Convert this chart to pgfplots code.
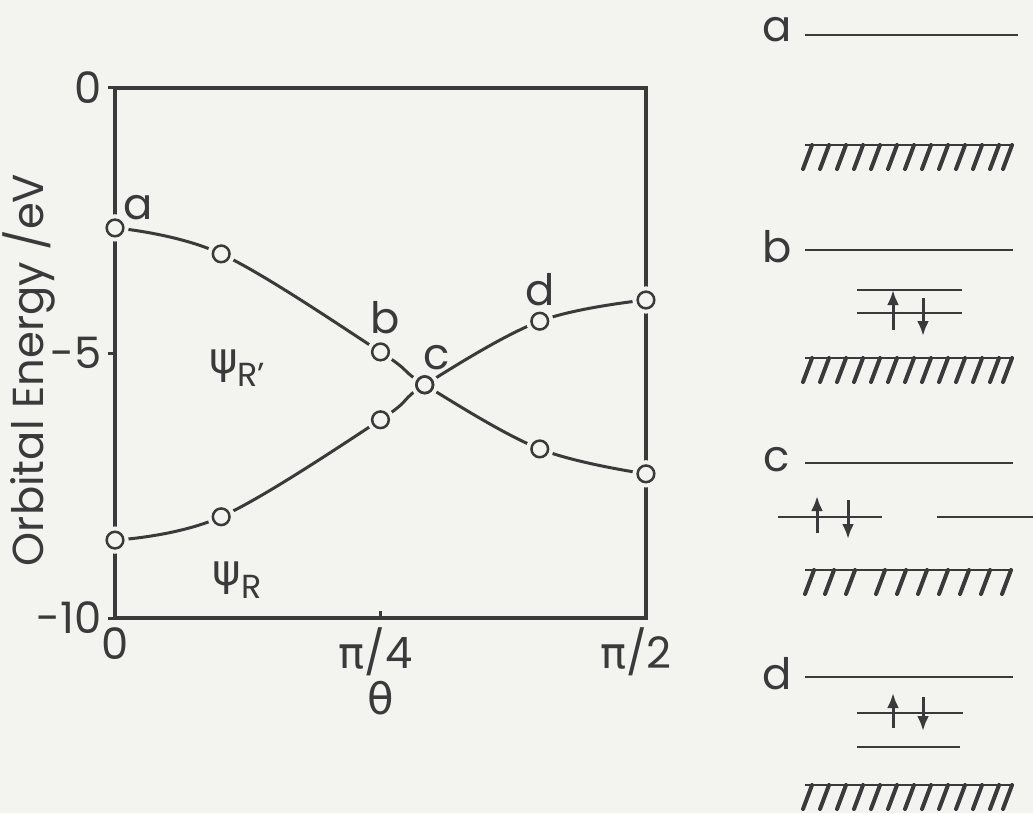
\documentclass[border=0pt]{standalone}
\usepackage{pgfplots}
\pgfplotsset{compat=1.18}
\usepackage{fontspec}
\setmainfont{Poppins}
\newfontfamily\gr{DejaVu Sans}
\usetikzlibrary{arrows.meta}
\definecolor{ink}{RGB}{58,58,58}
\definecolor{paper}{RGB}{243,243,240}

% orbital energies (eV) of psi_R' and psi_R against theta (degrees)
\pgfplotstableread{
theta  E
0     -2.64
18    -3.13
45    -4.98
52.5  -5.60
72    -6.81
90    -7.28
}\psiRprime
\pgfplotstableread{
theta  E
0     -8.53
18    -8.09
45    -6.26
52.5  -5.60
72    -4.40
90    -4.00
}\psiR

% hatched band: #1 = y, #2 = list of stroke x positions (px)
\newcommand\band[2]{%
  \draw[ink, line width=0.8pt] (805,#1) -- (1013,#1);
  \foreach \sx in {#2} {\draw[ink, line width=1.2pt, line cap=round] (\sx,#1) -- ++(-9,24);}
}

\begin{document}
\fontsize{13}{15}\selectfont
\begin{tikzpicture}
\useasboundingbox (0,0) rectangle (309.9pt,243.9pt);
\fill[paper] (0,0) rectangle (309.9pt,243.9pt);
\begin{axis}[
  at={(34.5pt,58.5pt)}, anchor=south west,
  scale only axis, width=159.3pt, height=159pt,
  xmin=0, xmax=90, ymin=-10, ymax=0,
  xtick={0,45,90}, xticklabels={0,\kern-3pt{\gr π}/4,\kern-6pt{\gr π}/2},
  ytick={-10,-5,0}, yticklabels={-10,-5,0},
  tick pos=left, xtick align=inside, ytick align=outside,
  major tick length=2pt,
  tick style={ink, line width=0.9pt},
  axis line style={ink, line width=1pt},
  tick label style={text=ink, font=\fontsize{13}{15}\selectfont},
  xticklabel style={yshift=1.5pt},
  yticklabel style={xshift=2.5pt},
  xlabel={\gr θ}, ylabel={Orbital Energy /eV},
  label style={text=ink, font=\fontsize{13}{15}\selectfont},
  xlabel style={at={(axis description cs:0.5,-0.152)}, anchor=center},
  ylabel style={at={(axis description cs:-0.162,0.468)}, anchor=center},
  clip=false,
]
\addplot[ink, line width=0.9pt, smooth, tension=0.6] table[x=theta,y=E] {\psiRprime};
\addplot[ink, line width=0.9pt, smooth, tension=0.6] table[x=theta,y=E] {\psiR};
\addplot[only marks, mark=*, mark size=3.9pt, color=paper] table[x=theta,y=E] {\psiRprime};
\addplot[only marks, mark=*, mark size=3.9pt, color=paper] table[x=theta,y=E] {\psiR};
\addplot[only marks, mark=o, mark size=2.5pt, ink, mark options={line width=0.75pt, fill=paper}] table[x=theta,y=E] {\psiRprime};
\addplot[only marks, mark=o, mark size=2.5pt, ink, mark options={line width=0.75pt, fill=paper}] table[x=theta,y=E] {\psiR};
\node[text=ink] at (axis cs:4,-2.25) {a};
\node[text=ink] at (axis cs:45.8,-4.34) {b};
\node[text=ink] at (axis cs:54.6,-5.08) {c};
\node[text=ink] at (axis cs:72,-3.81) {d};
\node[text=ink, inner sep=0pt] at (axis cs:20.7,-5.28) {{\gr ψ}\raisebox{-0.55ex}{\fontsize{10}{12}\selectfont R'}};
\node[text=ink, inner sep=0pt] at (axis cs:20.7,-9.28) {{\gr ψ}\raisebox{-0.55ex}{\fontsize{10}{12}\selectfont R}};
\end{axis}

% level diagrams a-d, drawn in pixel units from the top left corner
\begin{scope}[shift={(0pt,243.9pt)}, x=0.3pt, y=-0.3pt]
\tikzset{lev/.style={ink, line width=0.8pt},
         spin/.style={ink, line width=0.9pt, -{Latex[length=4.5pt,width=3.6pt]}}}
% a
\node[text=ink] at (777,30) {a};
\draw[lev] (805,35) -- (1018,35);
\band{145}{812,829,846,863,880,897,914,931,948,965,982,999,1012}
% b
\node[text=ink] at (777,247) {b};
\draw[lev] (805,250) -- (1013,250);
\draw[lev] (857,290) -- (962,290);
\draw[lev] (857,313) -- (962,313);
\draw[spin] (893,330) -- (893,290);
\draw[spin] (923,298) -- (923,336);
\band{358}{812,829,846,863,880,897,914,931,948,965,982,999,1012}
% c
\node[text=ink] at (777,460) {c};
\draw[lev] (805,463) -- (1013,463);
\draw[lev] (778,517) -- (882,517);
\draw[lev] (937,517) -- (1033,517);
\draw[spin] (817,533) -- (817,496);
\draw[spin] (848,500) -- (848,539);
\band{570}{814,834,855,885,906,927,948,969,990,1011}
% d
\node[text=ink] at (777,674) {d};
\draw[lev] (805,677) -- (1013,677);
\draw[lev] (857,713) -- (963,713);
\draw[lev] (857,747) -- (960,747);
\draw[spin] (893,728) -- (893,693);
\draw[spin] (923,697) -- (923,731);
\band{785}{812,829,846,863,880,897,914,931,948,965,982,999,1012}
\end{scope}
\end{tikzpicture}
\end{document}
